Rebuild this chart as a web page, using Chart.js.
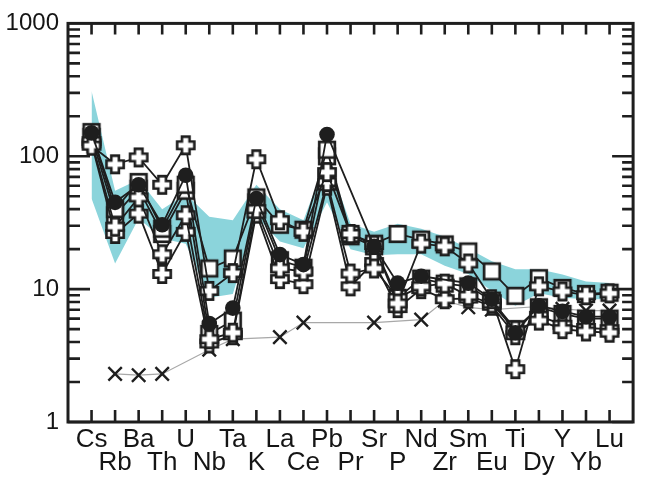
<!DOCTYPE html>
<html><head><meta charset="utf-8">
<script src="https://cdn.jsdelivr.net/npm/chart.js@4/dist/chart.umd.min.js"></script>
<style>html,body{margin:0;padding:0;background:#fff}canvas{display:block}</style>
</head><body>
<canvas id="c" width="645" height="481"></canvas>
<script>
const categories = ['Cs','Rb','Ba','Th','U','Nb','Ta','K','La','Ce','Pb','Pr','Sr','P','Nd','Zr','Sm','Eu','Ti','Dy','Y','Yb','Lu'];
const yTickLabels = [1, 10, 100, 1000];

// samples (filled circles)
const sampleCircle = [150, 45, 61, 30.5, 72, 5.5, 7.2, 48, 18.2, 15.3, 146, null, 21, 11.1, 12.5, null, 11.1, 8.4, 4.7, 7.5, 6.8, 6.2, 6.2];
// samples (open squares)
const sampleSquareHigh = [152, 40, 64, 28.5, 61, 14.3, 17, 49, 30.5, 28, 112, 26, 22, 26, 23.6, 21.7, 19.2, 13.6, 8.9, 12.1, 10.2, 9.2, 9.4];
const sampleSquareLow = [140, 36, 57, 26, 55, 4.6, 5.8, 45, 16.5, 14.5, 100, 25, 21, 8.6, 12, 11, 10.5, 8.2, 5.0, 7.3, 6.5, 6.0, 6.0];
// samples (open crosses)
const sampleCrossHigh = [120, 87, 98, 61, 121, 9.7, 13.2, 95, 33, 27, 76, 26, 21.5, 7.8, 22, 21, 15.6, 8.4, 2.5, 10.5, 9.6, 9.0, 9.3];
const sampleCrossMid = [130, 29.5, 49, 18.3, 36, 4.2, 4.7, 40, 14.3, 13.6, 64, 13.1, 14.3, 8.6, 10.5, 11, 8.9, 7.8, 4.9, 5.8, 5.0, 4.8, 4.7];
const sampleCrossLow = [125, 26, 37, 13, 27, 3.9, 4.5, 37, 11.9, 10.9, 60, 10.5, 16, 7.2, 10, 8.4, 8.5, 7.5, 4.5, 6.3, 5.4, 5.1, 5.0];
// reference (x markers)
const referenceX = [null, 2.3, 2.25, 2.3, null, 3.5, 4.2, null, 4.35, 5.6, null, null, 5.6, null, 5.9, 8.2, 7.3, 7.0, null, 7.4, 7.1, 6.9, 6.9];
// field envelope
const fieldUpper = [310, 55, 67, 40, 52, 35, 33, 61, 40, 33, 98, 31, 27, 31, 28.5, 24.8, 20.2, 16.2, 14.1, 14.1, 12.9, 11.4, 11.1];
const fieldLower = [48, 15.6, 34, 24, 22, 8.6, 9.2, 35, 22.8, 20.3, 45, 20, 18, 18.3, 18.3, 15, 13, 9.7, 7.5, 9.3, 8.6, 8.4, 8.4];

const labelsPadded = ['', ...categories, ''];
const pad = a => [null, ...a, null];
const INK = '#1e1e1e';

function plusMarker() {
  const s = 24, c = s / 2, a = 3.8, L = 8.6;
  const cv = document.createElement('canvas'); cv.width = s; cv.height = s;
  const g = cv.getContext('2d');
  g.beginPath();
  const pts = [[c-a,c-L],[c+a,c-L],[c+a,c-a],[c+L,c-a],[c+L,c+a],[c+a,c+a],[c+a,c+L],[c-a,c+L],[c-a,c+a],[c-L,c+a],[c-L,c-a],[c-a,c-a]];
  pts.forEach((p,i)=> i ? g.lineTo(p[0],p[1]) : g.moveTo(p[0],p[1]));
  g.closePath();
  g.fillStyle = '#fff'; g.fill();
  g.lineWidth = 2.6; g.strokeStyle = INK; g.lineJoin = 'miter'; g.stroke();
  return cv;
}
function squareMarker() {
  const s = 22, h = 7.8;
  const cv = document.createElement('canvas'); cv.width = s; cv.height = s;
  const g = cv.getContext('2d');
  g.fillStyle = '#fff'; g.fillRect(s/2-h, s/2-h, 2*h, 2*h);
  g.lineWidth = 2.7; g.strokeStyle = INK; g.strokeRect(s/2-h, s/2-h, 2*h, 2*h);
  return cv;
}
const PLUS = plusMarker(), SQUARE = squareMarker();

function sampleLine(data, style, extra) {
  return Object.assign({
    data: pad(data), borderColor: INK, borderWidth: 1.8, pointStyle: style,
    pointRadius: 9, pointHoverRadius: 9, spanGaps: true, fill: false, tension: 0
  }, extra || {});
}

const framePlugin = {
  id: 'frame',
  afterDatasetsDraw(chart) {
    const { ctx, chartArea: a, scales: { x, y } } = chart;
    ctx.save();
    ctx.strokeStyle = INK; ctx.lineWidth = 2.6; ctx.lineCap = 'butt';
    ctx.beginPath();
    for (let i = 1; i <= categories.length; i++) {
      const px = x.getPixelForValue(i);
      ctx.moveTo(px, a.top); ctx.lineTo(px, a.top + 11);
      ctx.moveTo(px, a.bottom); ctx.lineTo(px, a.bottom - 12);
    }
    for (let d = 1; d < 1000; d *= 10) {
      for (let m = 1; m <= 9; m++) {
        const py = y.getPixelForValue(d * m);
        const major = m === 1;
        ctx.moveTo(a.left, py); ctx.lineTo(a.left + (major ? 22 : 12), py);
        ctx.moveTo(a.right, py); ctx.lineTo(a.right - (major ? 21 : 11), py);
      }
    }
    ctx.stroke();
    ctx.lineWidth = 3;
    ctx.strokeRect(a.left, a.top, a.right - a.left, a.bottom - a.top);
    ctx.restore();
  }
};

new Chart(document.getElementById('c'), {
  type: 'line',
  data: {
    labels: labelsPadded,
    datasets: [
      sampleLine(sampleCircle, 'circle', { pointRadius: 7.8, pointHoverRadius: 7.8, pointBackgroundColor: INK, pointBorderColor: INK, pointBorderWidth: 0 }),
      sampleLine(sampleCrossHigh, PLUS),
      sampleLine(sampleCrossMid, PLUS),
      sampleLine(sampleCrossLow, PLUS),
      sampleLine(sampleSquareHigh, SQUARE),
      sampleLine(sampleSquareLow, SQUARE),
      sampleLine(referenceX, 'crossRot', { borderColor: '#a8a8a8', borderWidth: 1.2, pointRadius: 9.5, pointHoverRadius: 9.5, pointBorderColor: INK, pointBorderWidth: 2.4 }),
      { data: pad(fieldUpper), borderWidth: 0, pointRadius: 0, fill: '+1', backgroundColor: '#8bd4db', tension: 0 },
      { data: pad(fieldLower), borderWidth: 0, pointRadius: 0, fill: false, tension: 0 }
    ]
  },
  options: {
    responsive: false, animation: false, devicePixelRatio: 1,
    layout: { padding: { top: 19, right: 2, left: 0, bottom: 0 } },
    plugins: { legend: { display: false }, tooltip: { enabled: false } },
    scales: {
      x: {
        type: 'category', offset: false,
        grid: { display: false, drawTicks: false }, border: { display: false },
        ticks: {
          autoSkip: false, maxRotation: 0, minRotation: 0, padding: 6, color: '#151515',
          font: { family: "'Liberation Sans', Arial, sans-serif", size: 26, lineHeight: 0.885 },
          callback: function (v, i) {
            const l = labelsPadded[i];
            if (!l) return '';
            return (i % 2 === 1) ? l : ['', l];
          }
        },
        afterFit(s) { s.height = 59; }
      },
      y: {
        type: 'logarithmic', min: 1, max: 1000,
        grid: { display: false, drawTicks: false }, border: { display: false },
        ticks: {
          autoSkip: false, padding: 9, color: '#151515',
          font: { family: "'Liberation Sans', Arial, sans-serif", size: 24 },
          callback: v => yTickLabels.includes(v) ? String(v) : ''
        },
        afterFit(s) { s.width = 68; }
      }
    }
  },
  plugins: [framePlugin]
});
</script>
</body></html>
